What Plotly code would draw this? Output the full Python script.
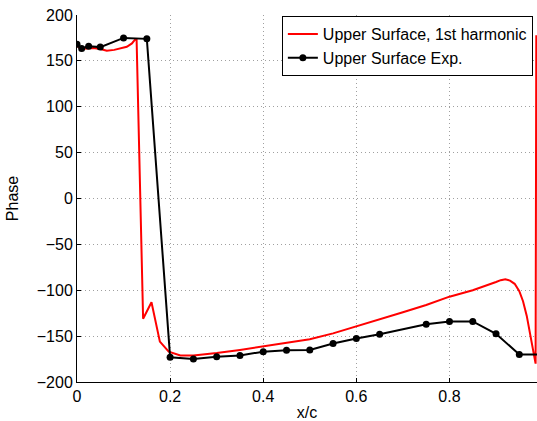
import plotly.graph_objects as go

# Red: computed upper surface phase, 1st harmonic
red_x = [0.0, 0.01, 0.02, 0.035, 0.05, 0.064, 0.08, 0.093, 0.107, 0.118, 0.125, 0.128,
         0.142, 0.16, 0.172, 0.178, 0.197, 0.222, 0.25, 0.3, 0.35, 0.4, 0.45, 0.5,
         0.55, 0.6, 0.65, 0.7, 0.75, 0.8, 0.85, 0.88, 0.9, 0.91, 0.92, 0.93, 0.94,
         0.95, 0.958, 0.966, 0.973, 0.98, 0.985, 0.9865]
red_y = [166, 163, 163.5, 164, 163, 161, 162, 163.3, 165.4, 169, 173.5, 173,
         -131, -113, -143, -156, -167, -171, -171, -168.5, -165, -161, -157.5, -153.5,
         -147, -139.5, -132, -124, -116, -107, -100, -95, -91, -89, -88, -89.5, -93,
         -101, -112, -128, -147, -165, -180, 178]

# Black: experimental upper surface phase
exp_x = [0.0, 0.01, 0.025, 0.05, 0.1, 0.15, 0.2, 0.25, 0.3, 0.35, 0.4, 0.45, 0.5,
         0.55, 0.6, 0.65, 0.75, 0.8, 0.85, 0.9, 0.95, 1.0]
exp_y = [168, 163.5, 166, 165, 175, 174, -173, -175, -172.5, -171, -167, -165.5, -165,
         -158, -152.5, -148, -137, -134, -134, -147.5, -170, -170]

x_ticks = [0, 0.2, 0.4, 0.6, 0.8]
y_ticks = [-200, -150, -100, -50, 0, 50, 100, 150, 200]

font = dict(family="Liberation Sans, Arial, Helvetica, sans-serif", size=16, color="black")

fig = go.Figure()
fig.add_trace(go.Scatter(x=red_x, y=red_y, mode="lines", name="Upper Surface, 1st harmonic",
                         line=dict(color="#ff0000", width=2)))
fig.add_trace(go.Scatter(x=exp_x, y=exp_y, mode="lines+markers", name="Upper Surface Exp.",
                         line=dict(color="black", width=2),
                         marker=dict(color="black", size=7, symbol="circle")))

grid = dict(showgrid=True, gridcolor="#a0a0a0", gridwidth=1, griddash="1px,3px",
            zeroline=False, showline=True, linecolor="black", linewidth=1,
            ticks="inside", ticklen=4, tickcolor="black", tickfont=font)

fig.update_xaxes(range=[0, 0.988], tickvals=x_ticks, ticktext=[str(v) for v in x_ticks],
                 title=dict(text="x/c", font=font, standoff=8), **grid)
fig.update_yaxes(range=[-200, 200], tickvals=y_ticks,
                 title=dict(text="Phase", font=font, standoff=14), **grid)

fig.update_layout(
    width=537, height=421,
    margin=dict(l=77, r=0, t=15, b=39, autoexpand=False),
    paper_bgcolor="white", plot_bgcolor="white",
    font=font,
    showlegend=True,
    legend=dict(x=0.991, y=0.997, xanchor="right", yanchor="top",
                bgcolor="white", bordercolor="black", borderwidth=1,
                font=font, tracegroupgap=0, itemwidth=30),
)

fig.write_html("out.html")
